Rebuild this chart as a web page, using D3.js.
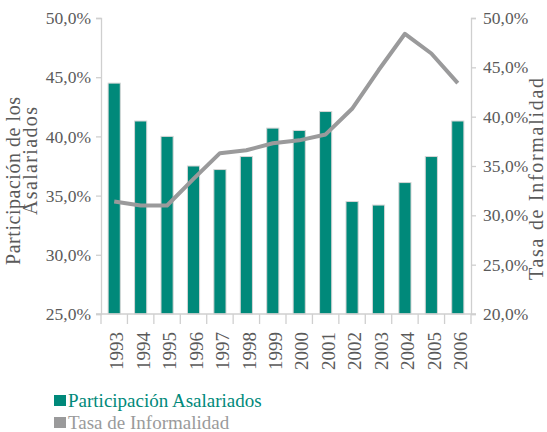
<!DOCTYPE html>
<html>
<head>
<meta charset="utf-8">
<script src="https://cdn.jsdelivr.net/npm/d3@7"></script>
<style>
  html, body { margin: 0; padding: 0; background: #fff; }
  svg { display: block; }
</style>
</head>
<body>
<svg id="chart" width="547" height="432"></svg>
<script>
'use strict';

// data
const years = ['1993', '1994', '1995', '1996', '1997', '1998', '1999',
               '2000', '2001', '2002', '2003', '2004', '2005', '2006'];
const participacion = [44.5, 41.3, 40.0, 37.5, 37.2, 38.3, 40.7,
                       40.5, 42.1, 34.5, 34.2, 36.1, 38.3, 41.3];
const informalidad = [31.4, 31.0, 31.0, 33.7, 36.3, 36.6, 37.3,
                      37.6, 38.2, 40.8, 44.7, 48.4, 46.4, 43.4];
const leftTicks = [25, 30, 35, 40, 45, 50];
const rightTicks = [20, 25, 30, 35, 40, 45, 50];
const legendItems = ['Participación Asalariados', 'Tasa de Informalidad'];

const FONT = '"Liberation Serif", "Times New Roman", serif';
const TEAL = '#00897a';
const GREY = '#9a9a9b';
const AXIS = '#cfcfcf';
const TEXT = '#5a5a5a';

const svg = d3.select('#chart');
const plot = { left: 101, right: 471, top: 18, bottom: 314 };

const x = d3.scaleBand().domain(years).range([plot.left, plot.right]).padding(0);
const yL = d3.scaleLinear().domain([25, 50]).range([plot.bottom, plot.top]);
const yR = d3.scaleLinear().domain([20, 50]).range([plot.bottom, plot.top]);
const pct = v => d3.format('.1f')(v).replace('.', ',') + '%';
const bw = x.bandwidth() * 0.46;

// bars
svg.append('g')
  .selectAll('rect')
  .data(years)
  .join('rect')
  .attr('x', d => x(d) + (x.bandwidth() - bw) / 2)
  .attr('y', (d, i) => yL(participacion[i]))
  .attr('width', bw)
  .attr('height', (d, i) => yL(25) - yL(participacion[i]))
  .attr('fill', TEAL)
  .attr('stroke', '#d6d6d6')
  .attr('stroke-width', 1);

// informality line on the right axis
const line = d3.line()
  .x((d, i) => x(years[i]) + x.bandwidth() / 2)
  .y(d => yR(d));
svg.append('path')
  .datum(informalidad)
  .attr('d', line)
  .attr('fill', 'none')
  .attr('stroke', GREY)
  .attr('stroke-width', 4)
  .attr('stroke-linejoin', 'round');

// left and right value axes
const gL = svg.append('g')
  .attr('transform', 'translate(' + plot.left + ',0)')
  .call(d3.axisLeft(yL).tickValues(leftTicks).tickFormat(pct).tickSize(5).tickPadding(5));
const gR = svg.append('g')
  .attr('transform', 'translate(' + plot.right + ',0)')
  .call(d3.axisRight(yR).tickValues(rightTicks).tickFormat(pct).tickSize(5).tickPadding(7));

[gL, gR].forEach(g => {
  g.attr('font-family', null);
  g.select('.domain').attr('stroke', AXIS).attr('stroke-width', 1.3);
  g.selectAll('.tick line').attr('stroke', AXIS).attr('stroke-width', 1.3);
  g.selectAll('.tick text')
    .attr('fill', TEXT)
    .style('font-family', FONT)
    .style('font-size', '17.5px');
});

// bottom axis: baseline plus category separators
svg.append('line')
  .attr('x1', plot.left - 5).attr('x2', plot.right + 5)
  .attr('y1', plot.bottom).attr('y2', plot.bottom)
  .attr('stroke', AXIS).attr('stroke-width', 1.3);
svg.append('g')
  .selectAll('line')
  .data(years.concat(['end']))
  .join('line')
  .attr('x1', d => d === 'end' ? plot.right : x(d))
  .attr('x2', d => d === 'end' ? plot.right : x(d))
  .attr('y1', plot.bottom).attr('y2', plot.bottom + 10)
  .attr('stroke', AXIS).attr('stroke-width', 1.3);

svg.append('g')
  .selectAll('text')
  .data(years)
  .join('text')
  .attr('transform', d => 'translate(' + (x(d) + x.bandwidth() / 2 + 2.5) + ',332) rotate(-90)')
  .attr('text-anchor', 'end')
  .attr('dy', '0.35em')
  .attr('fill', TEXT)
  .style('font-family', FONT)
  .style('font-size', '19px')
  .text(d => d);

// axis titles
const leftTitle = [
  { text: 'Participación de los', x: 20, y: 181, len: 168 },
  { text: 'Asalariados', x: 37, y: 161, len: 108 }
];
svg.append('g')
  .selectAll('text')
  .data(leftTitle)
  .join('text')
  .attr('transform', d => 'translate(' + d.x + ',' + d.y + ') rotate(-90)')
  .attr('text-anchor', 'middle')
  .attr('textLength', d => d.len)
  .attr('lengthAdjust', 'spacing')
  .attr('fill', TEXT)
  .style('font-family', FONT)
  .style('font-size', '20px')
  .text(d => d.text);

svg.append('text')
  .attr('transform', 'translate(543,179) rotate(-90)')
  .attr('text-anchor', 'middle')
  .attr('textLength', 202)
  .attr('lengthAdjust', 'spacing')
  .attr('fill', TEXT)
  .style('font-family', FONT)
  .style('font-size', '20px')
  .text('Tasa de Informalidad');

// legend
const legendColors = [TEAL, GREY];
const lg = svg.append('g')
  .selectAll('g')
  .data(legendItems)
  .join('g')
  .attr('transform', (d, i) => 'translate(54,' + (395 + i * 22) + ')');
lg.append('rect')
  .attr('width', 12).attr('height', 11)
  .attr('fill', (d, i) => legendColors[i]);
lg.append('text')
  .attr('x', 14).attr('y', 11.5)
  .attr('fill', (d, i) => legendColors[i])
  .style('font-family', FONT)
  .style('font-size', '19px')
  .text(d => d);
</script>
</body>
</html>
